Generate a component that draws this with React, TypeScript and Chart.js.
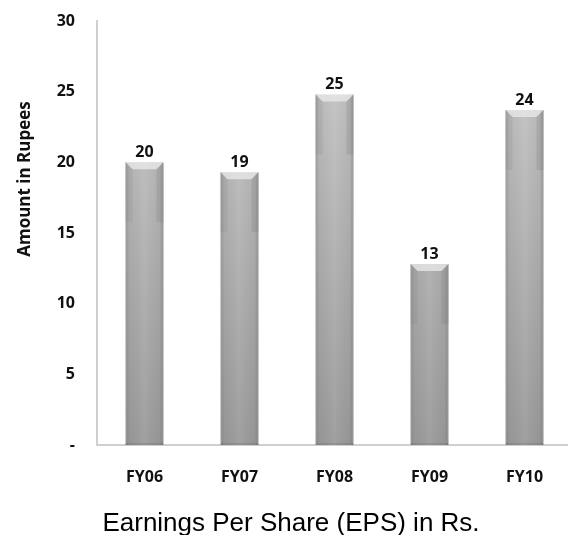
import React, { useEffect, useRef } from "react";
import { Chart, registerables } from "chart.js";

Chart.register(...registerables);

const years = ["FY06", "FY07", "FY08", "FY09", "FY10"];
const eps = [20.0, 19.3, 24.8, 12.8, 23.7];
const yTicks = [0, 5, 10, 15, 20, 25, 30];
const yTitle = "Amount in Rupees";
const chartTitle = "Earnings Per Share (EPS) in Rs.";

const boldFont = '"Open Sans", "Noto Sans", sans-serif';

// Bevelled top, darker side edges and the value above each bar.
const barDecor = {
  id: "barDecor",
  afterDatasetsDraw(chart: any) {
    const ctx = chart.ctx as CanvasRenderingContext2D;
    const meta = chart.getDatasetMeta(0);
    const values = chart.data.datasets[0].data as number[];
    meta.data.forEach((bar: any, i: number) => {
      const { x, y, base, width } = bar.getProps(["x", "y", "base", "width"], true);
      const l = x - width / 2;
      const r = x + width / 2;
      ctx.save();
      // side shading
      const side = ctx.createLinearGradient(l, 0, r, 0);
      side.addColorStop(0, "rgba(90,90,90,0.35)");
      side.addColorStop(0.1, "rgba(90,90,90,0.05)");
      side.addColorStop(0.5, "rgba(255,255,255,0.08)");
      side.addColorStop(0.9, "rgba(90,90,90,0.05)");
      side.addColorStop(1, "rgba(90,90,90,0.4)");
      ctx.fillStyle = side;
      ctx.fillRect(l, y, width, base - y);
      // top bevel
      const bev = 7;
      ctx.beginPath();
      ctx.moveTo(l, y);
      ctx.lineTo(r, y);
      ctx.lineTo(r - bev, y + bev);
      ctx.lineTo(l + bev, y + bev);
      ctx.closePath();
      ctx.fillStyle = "rgba(235,235,235,0.75)";
      ctx.fill();
      ctx.beginPath();
      ctx.moveTo(l, y);
      ctx.lineTo(l + bev, y + bev);
      ctx.lineTo(l + bev, y + 60);
      ctx.lineTo(l, y + 60);
      ctx.closePath();
      ctx.fillStyle = "rgba(120,120,120,0.15)";
      ctx.fill();
      ctx.beginPath();
      ctx.moveTo(r, y);
      ctx.lineTo(r - bev, y + bev);
      ctx.lineTo(r - bev, y + 60);
      ctx.lineTo(r, y + 60);
      ctx.closePath();
      ctx.fillStyle = "rgba(110,110,110,0.2)";
      ctx.fill();
      // value label
      ctx.fillStyle = "#111";
      ctx.font = `bold 16px ${boldFont}`;
      ctx.textAlign = "center";
      ctx.textBaseline = "alphabetic";
      ctx.fillText(String(Math.round(values[i])), x, y - 5);
      ctx.restore();
    });
  },
};

// Rotated y title and the caption under the chart.
const captions = {
  id: "captions",
  afterDraw(chart: any) {
    const ctx = chart.ctx as CanvasRenderingContext2D;
    ctx.save();
    ctx.fillStyle = "#111";
    ctx.font = `bold 17px ${boldFont}`;
    ctx.textAlign = "center";
    ctx.textBaseline = "middle";
    ctx.translate(25, 179);
    ctx.rotate(-Math.PI / 2);
    ctx.fillText(yTitle, 0, 0);
    ctx.restore();

    ctx.save();
    ctx.fillStyle = "#000";
    ctx.font = '26px "Liberation Sans", Arial, sans-serif';
    ctx.textAlign = "center";
    ctx.textBaseline = "alphabetic";
    ctx.fillText(chartTitle, 291, 531);
    ctx.restore();
  },
};

export default function App() {
  const ref = useRef<HTMLCanvasElement | null>(null);

  useEffect(() => {
    if (!ref.current) return;
    const chart = new Chart(ref.current, {
      type: "bar",
      data: {
        labels: years,
        datasets: [
          {
            data: eps,
            backgroundColor: (c: any) => {
              const area = c.chart.chartArea;
              if (!area) return "#aaaaaa";
              const g = c.chart.ctx.createLinearGradient(0, area.top, 0, area.bottom);
              g.addColorStop(0, "#c8c8c8");
              g.addColorStop(1, "#989898");
              return g;
            },
            borderColor: "#8a8a8a",
            borderWidth: { left: 1, right: 1, top: 0, bottom: 2 },
            borderSkipped: false,
            categoryPercentage: 1,
            barPercentage: 0.4,
          },
        ],
      },
      options: {
        responsive: false,
        animation: false,
        devicePixelRatio: 1,
        layout: { padding: { top: 21, left: 0, right: 0, bottom: 0 } },
        plugins: {
          legend: { display: false },
          title: { display: false },
          tooltip: { enabled: false },
        },
        scales: {
          x: {
            grid: { display: false, drawTicks: false },
            border: { display: true, color: "#cfcfcf", width: 2 },
            ticks: {
              color: "#111",
              font: { family: boldFont, weight: "bold", size: 16 },
              padding: 23,
            },
            afterFit: (s: any) => {
              s.height = 90;
              s.paddingLeft = 0;
              s.paddingRight = 0;
            },
          },
          y: {
            min: 0,
            max: 30,
            grid: { display: false, drawTicks: false },
            border: { display: true, color: "#cfcfcf", width: 2 },
            afterBuildTicks: (s: any) => {
              s.ticks = yTicks.map((v) => ({ value: v }));
            },
            ticks: {
              color: "#111",
              font: { family: boldFont, weight: "bold", size: 16 },
              padding: 22,
              callback: (v: any) => (Number(v) === 0 ? "-" : String(v)),
            },
            afterFit: (s: any) => {
              s.width = 97;
              s.paddingTop = 0;
              s.paddingBottom = 0;
            },
          },
        },
      },
      plugins: [barDecor, captions],
    });
    return () => chart.destroy();
  }, []);

  return (
    <div
      style={{
        position: "fixed",
        left: 0,
        top: 0,
        width: 568,
        height: 535,
        overflow: "hidden",
        background: "#fff",
      }}
    >
      <canvas ref={ref} width={572} height={535} style={{ display: "block" }} />
    </div>
  );
}
